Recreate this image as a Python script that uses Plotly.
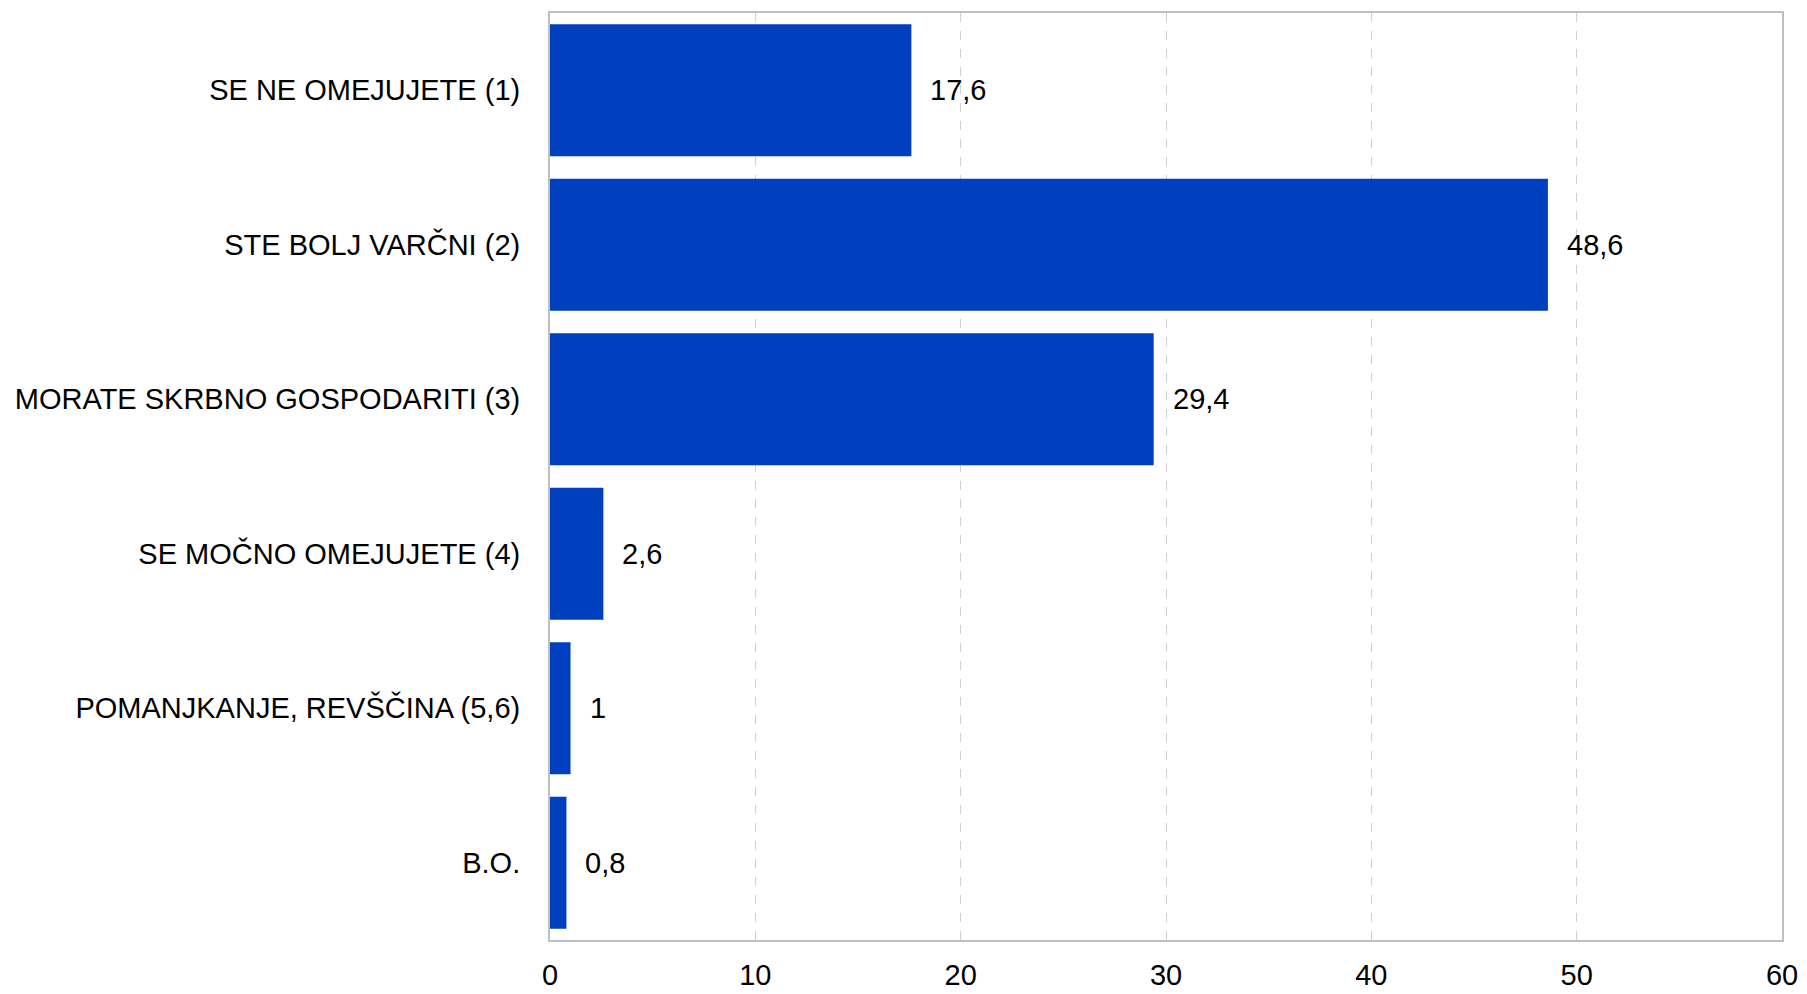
import plotly.graph_objects as go

categories = ["SE NE OMEJUJETE (1)", "STE BOLJ VARČNI (2)", "MORATE SKRBNO GOSPODARITI (3)",
              "SE MOČNO OMEJUJETE (4)", "POMANJKANJE, REVŠČINA (5,6)", "B.O."]
values = [17.6, 48.6, 29.4, 2.6, 1.0, 0.8]
value_labels = ["17,6", "48,6", "29,4", "2,6", "1", "0,8"]
x_ticks = [0, 10, 20, 30, 40, 50, 60]

FONT = "Liberation Sans, Arial, sans-serif"

fig = go.Figure()
fig.add_trace(go.Bar(
    y=categories, x=values, orientation="h",
    marker=dict(color="#0040bf", line=dict(width=0)),
    hoverinfo="skip",
))
for c, v, t in zip(categories, values, value_labels):
    fig.add_annotation(x=v, y=c, text=t, showarrow=False, xanchor="left",
                       xshift=17, font=dict(family=FONT, size=29, color="#000000"))

# page body has an 8px default margin, so the figure is sized to fit the window
fig.update_layout(
    template="none",
    width=1799, height=986,
    margin=dict(l=542, r=25, t=5, b=54, pad=0),
    paper_bgcolor="white", plot_bgcolor="white",
    bargap=0.146,
    showlegend=False,
    font=dict(family=FONT, color="#000000"),
)
fig.update_xaxes(
    range=[0, 60], tickvals=x_ticks, ticktext=[str(t) for t in x_ticks],
    showgrid=True, gridcolor="#d0d0d0", griddash="dash", gridwidth=1,
    zeroline=False, showline=True, linecolor="#bfbfbf", linewidth=2, mirror=True,
    ticks="", automargin=False, ticklabelstandoff=8,
    tickfont=dict(family=FONT, size=29, color="#000000"),
)
fig.update_yaxes(
    autorange="reversed", showgrid=False, zeroline=False,
    showline=True, linecolor="#bfbfbf", linewidth=2, mirror=True,
    ticks="", automargin=False, ticklabelstandoff=22,
    tickfont=dict(family=FONT, size=29, color="#000000"),
)
fig.write_html("out.html")
